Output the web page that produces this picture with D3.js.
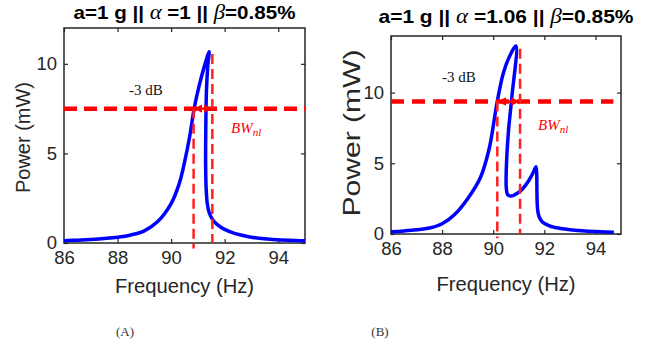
<!DOCTYPE html>
<html>
<head>
<meta charset="utf-8">
<script src="https://cdn.jsdelivr.net/npm/d3@7"></script>
<style>
  body { margin: 0; background: #fff; }
  svg { display: block; }
  .tick text { font-family: "Liberation Sans", Arial, sans-serif; fill: #262626; }
  .tick line { stroke: #262626; stroke-width: 1.2; }
</style>
</head>
<body>
<div id="chart"></div>
<script>
// ---- data ----
// panel A : alpha = 1
var freqA  = [86.0, 86.5, 87.0, 87.5, 88.0, 88.5, 89.0, 89.5, 90.0, 90.3, 90.5, 90.7, 90.86, 91.05, 91.25, 91.42,
              91.37, 91.32, 91.30, 91.29, 91.29, 91.31, 91.35, 91.42, 91.55, 91.75, 92.0, 92.4, 92.8, 93.3, 93.8, 94.4, 95.0];
var powerA = [0.13, 0.16, 0.2, 0.25, 0.32, 0.45, 0.68, 1.2, 2.2, 3.3, 4.5, 6.0, 7.5, 8.8, 9.9, 10.68,
              9.9, 8.5, 7.0, 5.5, 4.2, 3.0, 2.2, 1.7, 1.3, 1.0, 0.76, 0.52, 0.38, 0.26, 0.2, 0.15, 0.12];

// panel B : alpha = 1.06
var freqB  = [86.0, 86.5, 87.0, 87.5, 88.0, 88.5, 89.0, 89.5, 89.85, 90.15, 90.4, 90.65, 90.89,
              90.73, 90.6, 90.52, 90.51, 90.56, 90.68, 90.85, 91.1, 91.4, 91.58, 91.67,
              91.7, 91.71, 91.73, 91.78, 91.92, 92.2, 92.6, 93.1, 93.6, 94.2, 94.72];
var powerB = [0.16, 0.22, 0.3, 0.42, 0.72, 1.4, 2.5, 4.0, 6.1, 9.3, 11.4, 12.6, 13.3,
              9.7, 7.35, 5.0, 3.3, 2.8, 2.68, 2.78, 3.1, 3.8, 4.4, 4.76,
              4.3, 3.0, 1.9, 1.3, 0.85, 0.58, 0.4, 0.28, 0.21, 0.16, 0.13];

// -3 dB level and bandwidth edges
var levelA = 7.5,  bwA = [90.84, 91.54], bwTopA = 10.55, levelEndA = 95;
var levelB = 9.36, bwB = [90.16, 91.05], bwTopB = 13.1,  levelEndB = 94.7;

var xTicks = [86, 88, 90, 92, 94];
var yTicks = [0, 5, 10];
var alphaA = "1", alphaB = "1.06";
var captions = ["(A)", "(B)"];

// ---- layout ----
var W = 658, H = 344;
var svg = d3.select("#chart").append("svg")
    .attr("width", W).attr("height", H);

var defs = svg.append("defs");
["start", "end"].forEach(function(k) {
  defs.append("marker")
    .attr("id", "arr-" + k)
    .attr("viewBox", "0 0 10 10")
    .attr("refX", k == "end" ? 9 : 1).attr("refY", 5)
    .attr("markerWidth", 3.4).attr("markerHeight", 3.4)
    .attr("markerUnits", "strokeWidth")
    .attr("orient", "auto")
  .append("path")
    .attr("d", k == "end" ? "M0,0 L10,5 L0,10 z" : "M10,0 L0,5 L10,10 z")
    .attr("fill", "red");
});

var panels = [
  { L: 64, R: 305, T: 28, B: 243, yMax: 12, freq: freqA, power: powerA,
    level: levelA, bw: bwA, bwTop: bwTopA, levelEnd: levelEndA, alpha: alphaA,
    titleY: 19, titleW: 222, xlabY: 293, ylabX: 29.5, ylabSize: 20, ylabLen: 111, ylabY: 137.5,
    dbX: 129, dbY: 95, bwX: 231, bwY: 133, hDash: "13,7", capX: 125 },
  { L: 391, R: 621, T: 36, B: 234, yMax: 14, freq: freqB, power: powerB,
    level: levelB, bw: bwB, bwTop: bwTopB, levelEnd: levelEndB, alpha: alphaB,
    titleY: 23, titleW: 255, xlabY: 291, ylabX: 360, ylabSize: 24, ylabLen: 167, ylabY: 133,
    dbX: 442, dbY: 82, bwX: 538, bwY: 130, hDash: "13,8", capX: 380 }
];

panels.forEach(function(p, i) {
  var x = d3.scaleLinear().domain([86, 95]).range([p.L, p.R]);
  var y = d3.scaleLinear().domain([0, p.yMax]).range([p.B, p.T]);
  var g = svg.append("g");

  // axes, ticks pointing inward on all four sides
  var ax = [
    [d3.axisBottom(x).tickValues(xTicks).tickPadding(8), "translate(0," + p.B + ")"],
    [d3.axisTop(x).tickValues(xTicks).tickFormat(""), "translate(0," + p.T + ")"],
    [d3.axisLeft(y).tickValues(yTicks).tickPadding(7), "translate(" + p.L + ",0)"],
    [d3.axisRight(y).tickValues(yTicks).tickFormat(""), "translate(" + p.R + ",0)"]
  ];
  ax.forEach(function(a) {
    var ag = g.append("g").attr("transform", a[1])
      .call(a[0].tickSizeInner(-4).tickSizeOuter(0));
    ag.select(".domain").remove();
    ag.selectAll("text").style("font-size", "18.5px");
  });

  g.append("rect")
    .attr("x", p.L).attr("y", p.T)
    .attr("width", p.R - p.L).attr("height", p.B - p.T)
    .attr("fill", "none").attr("stroke", "#262626").attr("stroke-width", 1.5);

  // response curve
  var line = d3.line()
    .x(function(d) { return x(d[0]); })
    .y(function(d) { return y(d[1]); })
    .curve(d3.curveCatmullRom.alpha(0.5));
  g.append("path")
    .datum(d3.zip(p.freq, p.power))
    .attr("d", line)
    .attr("fill", "none").attr("stroke", "#0000ff")
    .attr("stroke-width", 3.5).attr("stroke-linejoin", "round");

  // -3 dB line
  g.append("line")
    .attr("x1", x(86)).attr("x2", x(p.levelEnd))
    .attr("y1", y(p.level)).attr("y2", y(p.level))
    .attr("stroke", "red").attr("stroke-width", 4.5)
    .attr("stroke-dasharray", p.hDash);

  // bandwidth edges
  g.append("line")
    .attr("x1", x(p.bw[0])).attr("x2", x(p.bw[0]))
    .attr("y1", y(p.level)).attr("y2", y(-0.3))
    .attr("stroke", "#ff2020").attr("stroke-width", 2.5)
    .attr("stroke-dasharray", "10,5");
  g.append("line")
    .attr("x1", x(p.bw[1])).attr("x2", x(p.bw[1]))
    .attr("y1", y(p.bwTop)).attr("y2", y(0))
    .attr("stroke", "#ff2020").attr("stroke-width", 2.5)
    .attr("stroke-dasharray", "10,5");

  // double arrow
  g.append("line")
    .attr("x1", x(p.bw[0]) + 1).attr("x2", x(p.bw[1]) - 1)
    .attr("y1", y(p.level)).attr("y2", y(p.level))
    .attr("stroke", "red").attr("stroke-width", 2.5)
    .attr("marker-start", "url(#arr-start)")
    .attr("marker-end", "url(#arr-end)");

  // annotations
  g.append("text")
    .attr("x", p.dbX).attr("y", p.dbY)
    .attr("font-family", "Liberation Serif, Times New Roman, serif")
    .attr("font-size", 15).attr("fill", "#111")
    .text("-3 dB");
  var bt = g.append("text")
    .attr("x", p.bwX).attr("y", p.bwY)
    .attr("font-family", "Liberation Serif, Times New Roman, serif")
    .attr("font-style", "italic").attr("font-size", 15).attr("fill", "red");
  bt.append("tspan").text("BW");
  bt.append("tspan").attr("font-size", 11).attr("dy", 3).text("nl");

  // title
  var cx = (p.L + p.R) / 2;
  var tt = g.append("text")
    .attr("x", cx).attr("y", p.titleY)
    .attr("text-anchor", "middle")
    .attr("font-family", "Liberation Sans, Arial, sans-serif")
    .attr("font-weight", "bold").attr("font-size", 19).attr("fill", "#000")
    .attr("textLength", p.titleW).attr("lengthAdjust", "spacingAndGlyphs");
  tt.append("tspan").text("a=1 g || ");
  tt.append("tspan").attr("font-family", "Liberation Serif, serif")
    .attr("font-style", "italic").attr("font-weight", "normal").attr("font-size", 21).text("\u03b1");
  tt.append("tspan").text(" =" + p.alpha + " || ");
  tt.append("tspan").attr("font-family", "Liberation Serif, serif")
    .attr("font-style", "italic").attr("font-weight", "normal").attr("font-size", 21).text("\u03b2");
  tt.append("tspan").text("=0.85%");

  // axis labels
  g.append("text")
    .attr("x", cx).attr("y", p.xlabY)
    .attr("text-anchor", "middle")
    .attr("font-family", "Liberation Sans, Arial, sans-serif")
    .attr("font-size", 21).attr("fill", "#262626")
    .attr("textLength", 139).attr("lengthAdjust", "spacingAndGlyphs")
    .text("Frequency (Hz)");
  g.append("text")
    .attr("transform", "translate(" + p.ylabX + "," + p.ylabY + ") rotate(-90)")
    .attr("text-anchor", "middle")
    .attr("font-family", "Liberation Sans, Arial, sans-serif")
    .attr("font-size", p.ylabSize).attr("fill", "#262626")
    .attr("textLength", p.ylabLen).attr("lengthAdjust", "spacingAndGlyphs")
    .text("Power (mW)");

  // caption
  svg.append("text")
    .attr("x", p.capX).attr("y", 336)
    .attr("text-anchor", "middle")
    .attr("font-family", "Liberation Serif, serif")
    .attr("font-variant", "small-caps")
    .attr("font-size", 13).attr("fill", "#333")
    .text(captions[i]);
});
</script>
</body>
</html>
